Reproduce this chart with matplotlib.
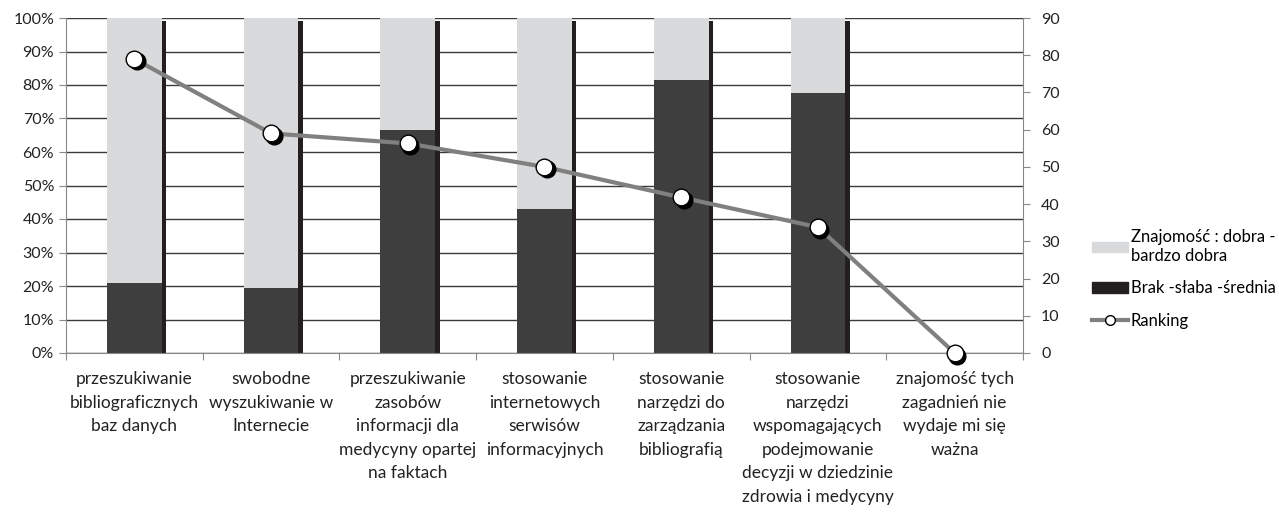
import matplotlib.pyplot as plt
import matplotlib.transforms as mtransforms
from matplotlib.patches import Patch
from matplotlib.lines import Line2D
import numpy as np

plt.rcParams['font.family'] = ['Lato', 'DejaVu Sans']

categories = [
    "przeszukiwanie\nbibliograficznych\nbaz danych",
    "swobodne\nwyszukiwanie w\nInternecie",
    "przeszukiwanie\nzasobów\ninformacji dla\nmedycyny opartej\nna faktach",
    "stosowanie\ninternetowych\nserwisów\ninformacyjnych",
    "stosowanie\nnarzędzi do\nzarządzania\nbibliografią",
    "stosowanie\nnarzędzi\nwspomagających\npodejmowanie\ndecyzji w dziedzinie\nzdrowia i medycyny",
    "znajomość tych\nzagadnień nie\nwydaje mi się\nważna",
]
brak = [0.21, 0.195, 0.665, 0.43, 0.815, 0.775, 0.0]
dobra = [0.79, 0.805, 0.335, 0.57, 0.185, 0.225, 0.0]
ranking = [79, 59, 56.3, 50, 41.8, 33.8, 0]

c_light = '#d9dadc'
c_dark = '#3e3e3e'
c_shadow = '#231f20'
c_line = '#808080'

fig = plt.figure(figsize=(12.79, 5.12), dpi=100)
ax = fig.add_axes([66/1279, (512-353)/512, (1023-66)/1279, 335/512])
x = np.arange(len(categories))
bw = 0.40
brak = np.array(brak)
dobra = np.array(dobra)
total = brak + dobra

ax.bar(x, brak, width=bw, color=c_dark, zorder=2)
ax.bar(x, dobra, bottom=brak, width=bw, color=c_light, zorder=2)
ax.bar(x + bw/2 + 0.016, total * 0.99, width=0.032, color=c_shadow, zorder=2)

ax.set_xlim(-0.5, len(categories) - 0.5)
ax.set_ylim(0, 1)
ax.set_yticks(np.arange(0, 1.01, 0.1))
ax.set_yticklabels([f"{int(round(v*100))}%" for v in np.arange(0, 1.01, 0.1)])
ax.yaxis.grid(True, color='#3a3a3a', lw=1.0, zorder=0)
ax.set_axisbelow(True)
ax.set_xticks(np.arange(-0.5, len(categories)), minor=False)
ax.set_xticklabels([])
ax.set_xticks(x, minor=True)
ax.set_xticklabels(categories, minor=True, fontsize=12.5, color='#222222',
                   linespacing=1.58, va='top')
ax.tick_params(axis='x', which='major', length=5, color='#888888', direction='out')
ax.tick_params(axis='x', which='minor', length=0, pad=13)
ax.tick_params(axis='y', length=5, color='#888888', labelsize=11.5, labelcolor='#222222')
for s in ['top', 'right']:
    ax.spines[s].set_visible(False)
for s in ['left', 'bottom']:
    ax.spines[s].set_color('#888888')

ax2 = ax.twinx()
ax2.set_ylim(0, 90)
ax2.set_yticks(range(0, 91, 10))
ax2.tick_params(axis='y', length=5, color='#888888', labelsize=11.5, labelcolor='#222222', pad=8)
for s in ['top', 'left', 'bottom']:
    ax2.spines[s].set_visible(False)
ax2.spines['right'].set_color('#888888')

ax2.plot(x, ranking, color=c_line, lw=3, zorder=3, clip_on=False)
shadow = mtransforms.offset_copy(ax2.transData, fig=fig, x=2.5, y=-2.5, units='dots')
ax2.plot(x, ranking, ls='none', marker='o', ms=12, color='black', transform=shadow,
         zorder=4, clip_on=False)
ax2.plot(x, ranking, ls='none', marker='o', ms=12, mfc='white', mec='black', mew=1,
         zorder=5, clip_on=False)

handles = [
    Patch(color=c_light, label="Znajomość : dobra -\nbardzo dobra"),
    Patch(color=c_shadow, label="Brak -słaba -średnia"),
    Line2D([0], [0], color=c_line, lw=3, marker='o', ms=7, mfc='white', mec='black',
           label="Ranking"),
]
fig.legend(handles=handles, loc='center left', bbox_to_anchor=(1085/1279, 0.455),
           frameon=False, fontsize=12, handlelength=2.15, handleheight=0.6,
           handletextpad=0.2, labelspacing=1.0, borderaxespad=0)

fig.savefig('out.png', dpi=100)
